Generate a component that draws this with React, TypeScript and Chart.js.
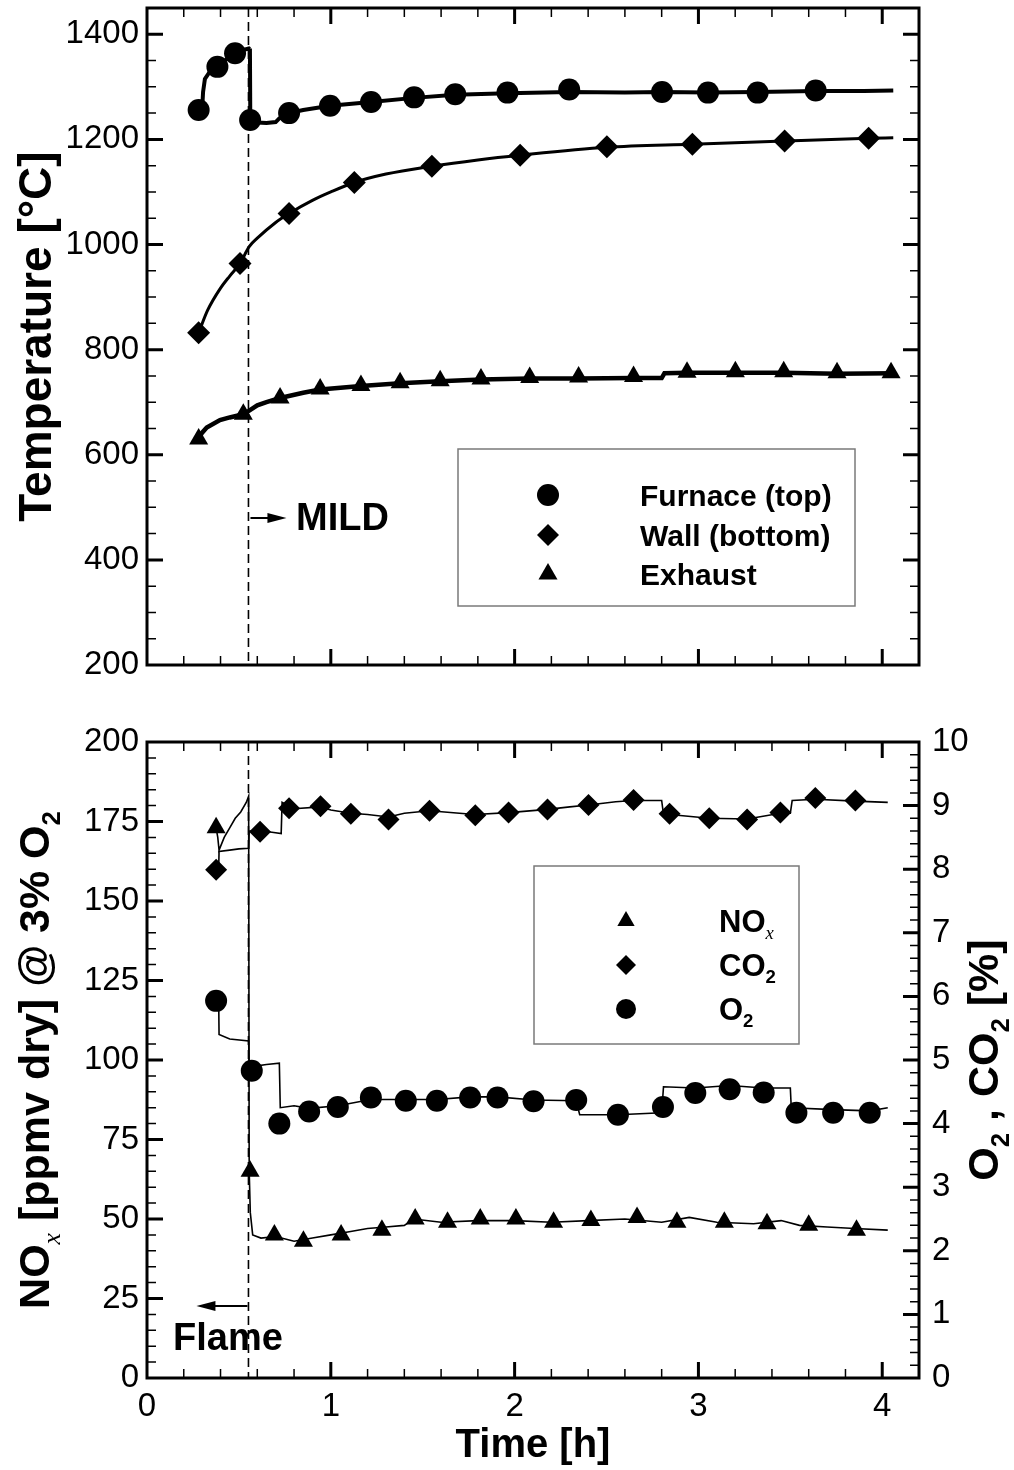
import React, { useEffect, useRef } from 'react';
import { Chart, registerables } from 'chart.js';

Chart.register(...registerables);

const SANS = '"Liberation Sans", Arial, Helvetica, sans-serif';
const SERIF = '"Liberation Serif", "Times New Roman", serif';

// ===== shared time axis =====
const TIME_MIN = 0;
const TIME_MAX = 4.2;
const TIME_TICKS = [0, 1, 2, 3, 4];
const TIME_MINOR_STEP = 0.2;
const SWITCH_TIME = 0.552;

// ===== top panel: temperatures =====
const TEMP_MIN = 200;
const TEMP_MAX = 1450;
const TEMP_TICKS = [200, 400, 600, 800, 1000, 1200, 1400];
const TEMP_MINOR_STEP = 50;

const furnaceLineTime = [0.281, 0.3, 0.305, 0.315, 0.34, 0.383, 0.43, 0.479, 0.52, 0.555, 0.56, 0.562, 0.6, 0.65, 0.7, 0.72, 0.773, 0.85, 0.996, 1.219, 1.453, 1.677, 1.961, 2.297, 2.6, 2.802, 3.052, 3.322, 3.638, 3.9, 4.06];
const furnaceLineTemp = [1256, 1258, 1290, 1315, 1328, 1338, 1352, 1364, 1370, 1373, 1372, 1237, 1232, 1231, 1233, 1240, 1250, 1256, 1264, 1271, 1279, 1285, 1288, 1290, 1289, 1290, 1289, 1290, 1292, 1292, 1293];
const furnaceMarkTime = [0.281, 0.383, 0.479, 0.561, 0.773, 0.996, 1.219, 1.453, 1.677, 1.961, 2.297, 2.802, 3.052, 3.322, 3.638];
const furnaceMarkTemp = [1256, 1338, 1364, 1237, 1250, 1264, 1271, 1280, 1286, 1289, 1295, 1290, 1289, 1289, 1293];

const wallLineTime = [0.281, 0.33, 0.4, 0.45, 0.506, 0.556, 0.6, 0.7, 0.773, 0.9, 1.0, 1.128, 1.3, 1.55, 1.8, 2.03, 2.5, 2.967, 3.469, 3.926, 4.06];
const wallLineTemp = [832, 875, 917, 940, 964, 996, 1012, 1042, 1059, 1084, 1100, 1118, 1134, 1149, 1161, 1170, 1185, 1191, 1197, 1202, 1203];
const wallMarkTime = [0.281, 0.506, 0.773, 1.128, 1.55, 2.03, 2.502, 2.967, 3.469, 3.926];
const wallMarkTemp = [832, 964, 1059, 1118, 1149, 1170, 1186, 1191, 1197, 1202];

const exhaustLineTime = [0.281, 0.3, 0.325, 0.397, 0.45, 0.524, 0.556, 0.6, 0.65, 0.724, 0.85, 0.942, 1.164, 1.377, 1.595, 1.817, 2.082, 2.348, 2.647, 2.8, 2.815, 2.938, 3.201, 3.464, 3.754, 4.06];
const exhaustLineTemp = [631, 642, 652, 666, 671, 677, 684, 694, 700, 708, 718, 724, 731, 736, 740, 743, 745, 745, 746, 746, 755, 756, 756, 756, 754, 755];
const exhaustMarkTime = [0.281, 0.524, 0.724, 0.942, 1.164, 1.377, 1.595, 1.817, 2.082, 2.348, 2.647, 2.938, 3.201, 3.464, 3.754, 4.048];
const exhaustMarkTemp = [630, 677, 708, 725, 732, 737, 741, 744, 747, 748, 749, 757, 758, 758, 756, 756];

const TEMP_LEGEND = ['Furnace (top)', 'Wall (bottom)', 'Exhaust'];

// ===== bottom panel: emissions =====
const NOX_MIN = 0;
const NOX_MAX = 200;
const NOX_TICKS = [0, 25, 50, 75, 100, 125, 150, 175, 200];
const NOX_MINOR_STEP = 5;
const PCT_MIN = 0;
const PCT_MAX = 10;
const PCT_TICKS = [0, 1, 2, 3, 4, 5, 6, 7, 8, 9, 10];
const PCT_MINOR_STEP = 0.2;

const noxLineTime = [0.376, 0.385, 0.392, 0.42, 0.45, 0.48, 0.51, 0.54, 0.553, 0.556, 0.562, 0.575, 0.62, 0.7, 0.8, 0.9, 1.0, 1.1, 1.2, 1.3, 1.4, 1.45, 1.6, 1.8, 2.0, 2.2, 2.4, 2.6, 2.8, 2.95, 3.1, 3.3, 3.45, 3.55, 3.7, 3.85, 4.03];
const noxLineVal = [173, 170, 166, 170, 173, 176, 178, 181, 183, 65, 52, 45, 44, 44.5, 43, 44, 45, 46, 47, 47.5, 48, 50, 49, 49.5, 49.5, 49, 49.5, 50, 49, 50.5, 49, 48.5, 49.5, 48, 47.5, 47, 46.5];
const noxMarkTime = [0.376, 0.561, 0.693, 0.851, 1.056, 1.278, 1.459, 1.635, 1.813, 2.007, 2.212, 2.415, 2.666, 2.883, 3.141, 3.373, 3.6, 3.86];
const noxMarkVal = [173, 65, 45, 43, 45, 46.5, 50, 49, 50, 50, 49, 49.5, 50.5, 49, 49, 48.5, 48, 46.5];

const co2LineTime = [0.376, 0.39, 0.392, 0.45, 0.5, 0.553, 0.556, 0.62, 0.68, 0.73, 0.735, 0.8, 0.944, 1.0, 1.109, 1.2, 1.314, 1.4, 1.537, 1.7, 1.786, 1.967, 2.179, 2.3, 2.402, 2.55, 2.647, 2.8, 2.81, 2.843, 3.059, 3.265, 3.446, 3.5, 3.51, 3.636, 3.854, 4.03];
const co2LineVal = [7.99, 8.0, 8.28, 8.3, 8.32, 8.33, 8.6, 8.6, 8.58, 8.56, 9.05, 8.95, 8.98, 8.93, 8.88, 8.86, 8.82, 8.88, 8.92, 8.88, 8.86, 8.89, 8.94, 8.98, 9.01, 9.06, 9.08, 9.08, 8.86, 8.86, 8.8, 8.79, 8.88, 8.88, 9.08, 9.1, 9.07, 9.05];
const co2MarkTime = [0.376, 0.615, 0.773, 0.944, 1.109, 1.314, 1.537, 1.786, 1.967, 2.179, 2.402, 2.647, 2.843, 3.059, 3.265, 3.446, 3.636, 3.854];
const co2MarkVal = [7.99, 8.59, 8.96, 8.99, 8.87, 8.78, 8.92, 8.85, 8.89, 8.94, 9.01, 9.09, 8.87, 8.8, 8.78, 8.89, 9.12, 9.08];

const o2LineTime = [0.376, 0.39, 0.392, 0.45, 0.553, 0.556, 0.58, 0.65, 0.72, 0.725, 0.8, 0.882, 1.038, 1.218, 1.408, 1.577, 1.758, 1.907, 2.103, 2.335, 2.354, 2.562, 2.8, 2.81, 2.983, 3.17, 3.355, 3.5, 3.505, 3.733, 3.932, 4.03];
const o2LineVal = [5.93, 5.93, 5.4, 5.33, 5.3, 4.85, 4.9, 4.93, 4.95, 4.25, 4.28, 4.24, 4.28, 4.38, 4.38, 4.38, 4.42, 4.42, 4.37, 4.36, 4.14, 4.14, 4.17, 4.58, 4.56, 4.6, 4.56, 4.56, 4.25, 4.22, 4.2, 4.25];
const o2MarkTime = [0.376, 0.57, 0.72, 0.882, 1.038, 1.218, 1.408, 1.577, 1.758, 1.907, 2.103, 2.335, 2.562, 2.807, 2.983, 3.17, 3.355, 3.533, 3.733, 3.932];
const o2MarkVal = [5.93, 4.83, 4.0, 4.19, 4.26, 4.41, 4.36, 4.36, 4.41, 4.41, 4.35, 4.37, 4.14, 4.26, 4.48, 4.54, 4.49, 4.17, 4.17, 4.17];

// ===== helpers =====
type Seg = { t: string; sub?: boolean; it?: boolean };

const pts = (t: number[], v: number[]) => t.map((x, i) => ({ x, y: v[i] }));

function steps(from: number, to: number, step: number): number[] {
  const n = Math.round((to - from) / step);
  const out: number[] = [];
  for (let i = 0; i <= n; i++) out.push(Math.round((from + i * step) * 1e6) / 1e6);
  return out;
}

function fontStr(size: number, bold: boolean, italicSerif?: boolean) {
  if (italicSerif) return `italic ${size}px ${SERIF}`;
  return `${bold ? 'bold ' : ''}${size}px ${SANS}`;
}

function segsWidth(ctx: CanvasRenderingContext2D, segs: Seg[], size: number, bold: boolean) {
  let w = 0;
  for (const s of segs) {
    ctx.font = fontStr(s.sub ? size * 0.6 : size, bold, s.it);
    w += ctx.measureText(s.t).width;
  }
  return w;
}

function drawSegs(ctx: CanvasRenderingContext2D, segs: Seg[], x: number, y: number, size: number, bold: boolean) {
  ctx.textAlign = 'left';
  ctx.textBaseline = 'alphabetic';
  ctx.fillStyle = '#000';
  let cx = x;
  for (const s of segs) {
    const sz = s.sub ? size * 0.6 : size;
    ctx.font = fontStr(sz, bold, s.it);
    ctx.fillText(s.t, cx, s.sub ? y + size * 0.24 : y);
    cx += ctx.measureText(s.t).width;
  }
}

function rotatedTitle(ctx: CanvasRenderingContext2D, segs: Seg[], cx: number, cy: number, size: number) {
  ctx.save();
  ctx.translate(cx, cy);
  ctx.rotate(-Math.PI / 2);
  const w = segsWidth(ctx, segs, size, true);
  drawSegs(ctx, segs, -w / 2, size * 0.36, size, true);
  ctx.restore();
}

function marker(ctx: CanvasRenderingContext2D, style: string, x: number, y: number, r: number) {
  ctx.beginPath();
  if (style === 'circle') {
    ctx.arc(x, y, r, 0, Math.PI * 2);
  } else if (style === 'rectRot') {
    ctx.moveTo(x, y - r);
    ctx.lineTo(x + r, y);
    ctx.lineTo(x, y + r);
    ctx.lineTo(x - r, y);
    ctx.closePath();
  } else {
    ctx.moveTo(x, y - r);
    ctx.lineTo(x + r * Math.sin((2 * Math.PI) / 3), y - r * Math.cos((2 * Math.PI) / 3));
    ctx.lineTo(x + r * Math.sin((4 * Math.PI) / 3), y - r * Math.cos((4 * Math.PI) / 3));
    ctx.closePath();
  }
  ctx.fillStyle = '#000';
  ctx.fill();
}

function frame(ctx: CanvasRenderingContext2D, a: any) {
  ctx.save();
  ctx.strokeStyle = '#000';
  ctx.lineWidth = 3;
  ctx.strokeRect(a.left, a.top, a.right - a.left, a.bottom - a.top);
  ctx.restore();
}

function ticksX(ctx: CanvasRenderingContext2D, a: any, scale: any, values: number[], len: number, width: number) {
  ctx.save();
  ctx.strokeStyle = '#000';
  ctx.lineWidth = width;
  ctx.beginPath();
  for (const v of values) {
    const x = scale.getPixelForValue(v);
    if (x <= a.left + 2 || x >= a.right - 2) continue;
    ctx.moveTo(x, a.bottom);
    ctx.lineTo(x, a.bottom - len);
    ctx.moveTo(x, a.top);
    ctx.lineTo(x, a.top + len);
  }
  ctx.stroke();
  ctx.restore();
}

function ticksY(ctx: CanvasRenderingContext2D, a: any, scale: any, values: number[], len: number, width: number, side: string) {
  ctx.save();
  ctx.strokeStyle = '#000';
  ctx.lineWidth = width;
  ctx.beginPath();
  for (const v of values) {
    const y = scale.getPixelForValue(v);
    if (y <= a.top + 2 || y >= a.bottom - 2) continue;
    if (side !== 'right') {
      ctx.moveTo(a.left, y);
      ctx.lineTo(a.left + len, y);
    }
    if (side !== 'left') {
      ctx.moveTo(a.right, y);
      ctx.lineTo(a.right - len, y);
    }
  }
  ctx.stroke();
  ctx.restore();
}

function dashedV(ctx: CanvasRenderingContext2D, x: number, y0: number, y1: number) {
  ctx.save();
  ctx.strokeStyle = '#000';
  ctx.lineWidth = 1.6;
  ctx.setLineDash([9, 5]);
  ctx.beginPath();
  ctx.moveTo(x, y0);
  ctx.lineTo(x, y1);
  ctx.stroke();
  ctx.restore();
}

function arrow(ctx: CanvasRenderingContext2D, x1: number, y: number, x2: number) {
  const dir = Math.sign(x2 - x1);
  ctx.save();
  ctx.strokeStyle = '#000';
  ctx.fillStyle = '#000';
  ctx.lineWidth = 2;
  ctx.beginPath();
  ctx.moveTo(x1, y);
  ctx.lineTo(x2 - dir * 10, y);
  ctx.stroke();
  ctx.beginPath();
  ctx.moveTo(x2, y);
  ctx.lineTo(x2 - dir * 19, y - 5);
  ctx.lineTo(x2 - dir * 19, y + 5);
  ctx.closePath();
  ctx.fill();
  ctx.restore();
}

function legendBox(ctx: CanvasRenderingContext2D, x0: number, y0: number, x1: number, y1: number) {
  ctx.save();
  ctx.fillStyle = '#fff';
  ctx.fillRect(x0, y0, x1 - x0, y1 - y0);
  ctx.strokeStyle = '#7a7a7a';
  ctx.lineWidth = 1.5;
  ctx.strokeRect(x0, y0, x1 - x0, y1 - y0);
  ctx.restore();
}

const lineDs = (label: string, data: any[], width: number, smooth: boolean, axis: string) => ({
  type: 'line',
  label,
  data,
  yAxisID: axis,
  borderColor: '#000',
  borderWidth: width,
  pointRadius: 0,
  fill: false,
  tension: 0,
  cubicInterpolationMode: smooth ? 'monotone' : 'default',
  order: 2,
});

const markDs = (label: string, data: any[], style: string, r: number, axis: string) => ({
  type: 'line',
  label,
  data,
  yAxisID: axis,
  showLine: false,
  pointStyle: style,
  pointRadius: r,
  pointBackgroundColor: '#000',
  pointBorderColor: '#000',
  pointBorderWidth: 0,
  order: 1,
});

const noGrid = { display: false, drawTicks: false, tickLength: 0 };

const fixSize = (w: number | null, h: number | null) => (s: any) => {
  if (w !== null) s.width = w;
  if (h !== null) s.height = h;
  s.paddingTop = 0;
  s.paddingBottom = 0;
  s.paddingLeft = 0;
  s.paddingRight = 0;
};

// ===== plugins =====
const topPanelPlugin = {
  id: 'topPanel',
  beforeDatasetsDraw(chart: any) {
    const { ctx, chartArea: a, scales } = chart;
    dashedV(ctx, scales.x.getPixelForValue(SWITCH_TIME), a.top, a.bottom);
  },
  afterDraw(chart: any) {
    const { ctx, chartArea: a, scales } = chart;
    const xs = scales.x;
    const ys = scales.y;
    frame(ctx, a);
    ticksX(ctx, a, xs, steps(TIME_MIN, TIME_MAX, TIME_MINOR_STEP).filter((v) => !TIME_TICKS.includes(v)), 9, 1.5);
    ticksX(ctx, a, xs, TIME_TICKS, 16, 3);
    ticksY(ctx, a, ys, steps(TEMP_MIN, TEMP_MAX, TEMP_MINOR_STEP).filter((v) => !TEMP_TICKS.includes(v)), 9, 1.5, 'both');
    ticksY(ctx, a, ys, TEMP_TICKS, 16, 3, 'both');

    // MILD annotation
    const sx = xs.getPixelForValue(SWITCH_TIME);
    arrow(ctx, sx + 2, 518, sx + 38);
    ctx.save();
    ctx.fillStyle = '#000';
    ctx.font = `bold 38px ${SANS}`;
    ctx.textAlign = 'left';
    ctx.textBaseline = 'alphabetic';
    ctx.fillText('MILD', 296, 530);
    ctx.restore();

    // legend
    legendBox(ctx, 458, 449, 855, 606);
    const styles = ['circle', 'rectRot', 'triangle'];
    const rows = [495, 535, 574];
    TEMP_LEGEND.forEach((lab, i) => {
      marker(ctx, styles[i], 548, rows[i], 11);
      drawSegs(ctx, [{ t: lab }], 640, rows[i] + 11, 30, true);
    });

    // y title
    rotatedTitle(ctx, [{ t: 'Temperature [°C]' }], 34, (a.top + a.bottom) / 2, 46);
  },
};

const bottomPanelPlugin = {
  id: 'bottomPanel',
  beforeDatasetsDraw(chart: any) {
    const { ctx, chartArea: a, scales } = chart;
    dashedV(ctx, scales.x.getPixelForValue(SWITCH_TIME), a.top, a.bottom);
  },
  afterDraw(chart: any) {
    const { ctx, chartArea: a, scales } = chart;
    const xs = scales.x;
    const yl = scales.y;
    const yr = scales.y2;
    frame(ctx, a);
    ticksX(ctx, a, xs, steps(TIME_MIN, TIME_MAX, TIME_MINOR_STEP).filter((v) => !TIME_TICKS.includes(v)), 9, 1.5);
    ticksX(ctx, a, xs, TIME_TICKS, 16, 3);
    ticksY(ctx, a, yl, steps(NOX_MIN, NOX_MAX, NOX_MINOR_STEP).filter((v) => !NOX_TICKS.includes(v)), 9, 1.5, 'left');
    ticksY(ctx, a, yl, NOX_TICKS, 16, 3, 'left');
    ticksY(ctx, a, yr, steps(PCT_MIN, PCT_MAX, PCT_MINOR_STEP).filter((v) => !PCT_TICKS.includes(v)), 9, 1.5, 'right');
    ticksY(ctx, a, yr, PCT_TICKS, 16, 3, 'right');

    // Flame annotation
    const sx = xs.getPixelForValue(SWITCH_TIME);
    arrow(ctx, sx - 1, 606, sx - 52);
    ctx.save();
    ctx.fillStyle = '#000';
    ctx.font = `bold 38px ${SANS}`;
    ctx.textAlign = 'left';
    ctx.textBaseline = 'alphabetic';
    ctx.fillText('Flame', 173, 650);
    ctx.restore();

    // legend
    legendBox(ctx, 534, 166, 799, 344);
    const rows = [221, 265, 309];
    const styles = ['triangle', 'rectRot', 'circle'];
    const labels: Seg[][] = [
      [{ t: 'NO' }, { t: 'x', sub: true, it: true }],
      [{ t: 'CO' }, { t: '2', sub: true }],
      [{ t: 'O' }, { t: '2', sub: true }],
    ];
    labels.forEach((segs, i) => {
      marker(ctx, styles[i], 626, rows[i], 10);
      drawSegs(ctx, segs, 719, rows[i] + 11, 31, true);
    });

    // axis titles
    const cy = (a.top + a.bottom) / 2;
    rotatedTitle(
      ctx,
      [{ t: 'NO' }, { t: 'x', sub: true, it: true }, { t: ' [ppmv dry] @ 3% O' }, { t: '2', sub: true }],
      34,
      cy,
      43
    );
    rotatedTitle(ctx, [{ t: 'O' }, { t: '2', sub: true }, { t: ' , CO' }, { t: '2', sub: true }, { t: ' [%]' }], 983, cy, 43);

    ctx.save();
    ctx.fillStyle = '#000';
    ctx.font = `bold 40px ${SANS}`;
    ctx.textAlign = 'center';
    ctx.textBaseline = 'alphabetic';
    ctx.fillText('Time [h]', (a.left + a.right) / 2, 757);
    ctx.restore();
  },
};

export default function App() {
  const topRef = useRef<HTMLCanvasElement>(null);
  const botRef = useRef<HTMLCanvasElement>(null);

  useEffect(() => {
    const tickFont = { family: SANS, size: 33 };

    const c1 = new Chart(topRef.current as HTMLCanvasElement, {
      type: 'line',
      data: {
        datasets: [
          markDs('Furnace (top)', pts(furnaceMarkTime, furnaceMarkTemp), 'circle', 11, 'y'),
          markDs('Wall (bottom)', pts(wallMarkTime, wallMarkTemp), 'rectRot', 11.5, 'y'),
          markDs('Exhaust', pts(exhaustMarkTime, exhaustMarkTemp), 'triangle', 11, 'y'),
          lineDs('Furnace (top) trace', pts(furnaceLineTime, furnaceLineTemp), 4, false, 'y'),
          lineDs('Wall (bottom) trace', pts(wallLineTime, wallLineTemp), 3, true, 'y'),
          lineDs('Exhaust trace', pts(exhaustLineTime, exhaustLineTemp), 4.5, false, 'y'),
        ] as any,
      },
      options: {
        animation: false,
        responsive: false,
        devicePixelRatio: 1,
        events: [],
        layout: { autoPadding: false, padding: { left: 0, right: 95, top: 8, bottom: 35 } },
        plugins: { legend: { display: false }, tooltip: { enabled: false } },
        scales: {
          x: {
            type: 'linear',
            display: false,
            min: TIME_MIN,
            max: TIME_MAX,
            afterFit: fixSize(null, 0),
          },
          y: {
            type: 'linear',
            position: 'left',
            min: TEMP_MIN,
            max: TEMP_MAX,
            grid: noGrid,
            border: { display: false },
            ticks: { font: tickFont, color: '#000', padding: 8, callback: (v: any) => String(v) },
            afterBuildTicks: (s: any) => {
              s.ticks = TEMP_TICKS.map((v) => ({ value: v }));
            },
            afterFit: fixSize(147, null),
          },
        },
      } as any,
      plugins: [topPanelPlugin],
    });

    const c2 = new Chart(botRef.current as HTMLCanvasElement, {
      type: 'line',
      data: {
        datasets: [
          markDs('NOx', pts(noxMarkTime, noxMarkVal), 'triangle', 11, 'y'),
          markDs('CO2', pts(co2MarkTime, co2MarkVal), 'rectRot', 11, 'y2'),
          markDs('O2', pts(o2MarkTime, o2MarkVal), 'circle', 11, 'y2'),
          lineDs('NOx trace', pts(noxLineTime, noxLineVal), 1.6, false, 'y'),
          lineDs('CO2 trace', pts(co2LineTime, co2LineVal), 1.6, false, 'y2'),
          lineDs('O2 trace', pts(o2LineTime, o2LineVal), 1.6, false, 'y2'),
        ] as any,
      },
      options: {
        animation: false,
        responsive: false,
        devicePixelRatio: 1,
        events: [],
        layout: { autoPadding: false, padding: { left: 0, right: 0, top: 42, bottom: 0 } },
        plugins: { legend: { display: false }, tooltip: { enabled: false } },
        scales: {
          x: {
            type: 'linear',
            position: 'bottom',
            min: TIME_MIN,
            max: TIME_MAX,
            grid: noGrid,
            border: { display: false },
            ticks: { font: tickFont, color: '#000', padding: 9, maxRotation: 0, autoSkip: false, callback: (v: any) => String(v) },
            afterBuildTicks: (s: any) => {
              s.ticks = TIME_TICKS.map((v) => ({ value: v }));
            },
            afterFit: fixSize(null, 92),
          },
          y: {
            type: 'linear',
            position: 'left',
            min: NOX_MIN,
            max: NOX_MAX,
            grid: noGrid,
            border: { display: false },
            ticks: { font: tickFont, color: '#000', padding: 8, callback: (v: any) => String(v) },
            afterBuildTicks: (s: any) => {
              s.ticks = NOX_TICKS.map((v) => ({ value: v }));
            },
            afterFit: fixSize(147, null),
          },
          y2: {
            type: 'linear',
            position: 'right',
            min: PCT_MIN,
            max: PCT_MAX,
            grid: noGrid,
            border: { display: false },
            ticks: { font: tickFont, color: '#000', padding: 13, callback: (v: any) => String(v) },
            afterBuildTicks: (s: any) => {
              s.ticks = PCT_TICKS.map((v) => ({ value: v }));
            },
            afterFit: fixSize(95, null),
          },
        },
      } as any,
      plugins: [bottomPanelPlugin],
    });

    return () => {
      c1.destroy();
      c2.destroy();
    };
  }, []);

  return (
    <div style={{ position: 'absolute', left: 0, top: 0, width: 1014, height: 1470, background: '#fff' }}>
      <canvas
        ref={topRef}
        width={1014}
        height={700}
        style={{ position: 'absolute', left: 0, top: 0, width: 1014, height: 700 }}
      />
      <canvas
        ref={botRef}
        width={1014}
        height={770}
        style={{ position: 'absolute', left: 0, top: 700, width: 1014, height: 770 }}
      />
    </div>
  );
}
